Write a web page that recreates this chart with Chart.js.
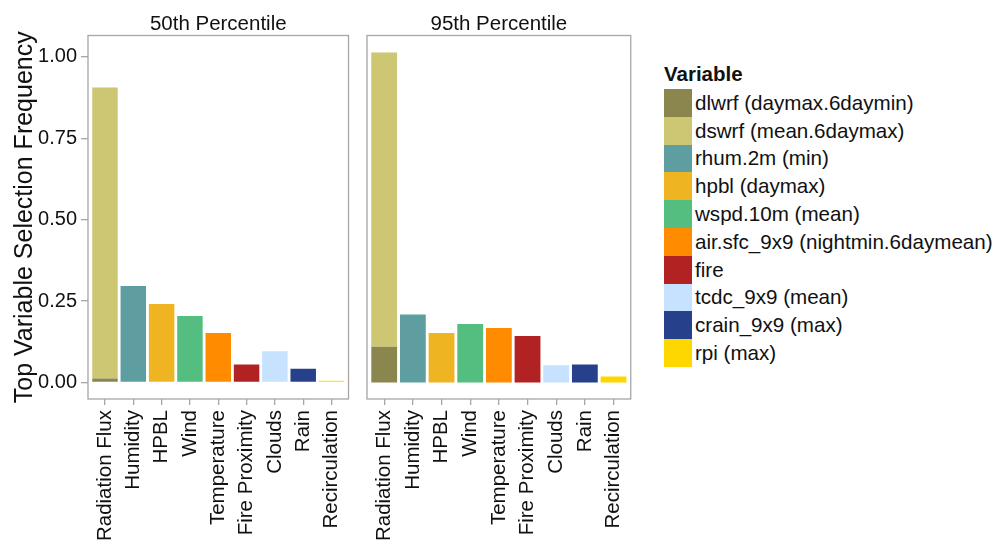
<!DOCTYPE html>
<html>
<head>
<meta charset="utf-8">
<script src="https://cdn.jsdelivr.net/npm/chart.js@4"></script>
<style>
  html, body { margin: 0; padding: 0; background: #fff; }
  body { width: 999px; height: 544px; position: relative; overflow: hidden; font-family: "Liberation Sans", Arial, Helvetica, sans-serif; }
  .panel { position: absolute; top: 0; height: 544px; }
  #legend { position: absolute; left: 664px; top: 62px; color: #111; }
  #legend .title { font-weight: bold; font-size: 20.5px; line-height: 24px; height: 27px; }
  #legend .row { display: flex; align-items: center; height: 27.8px; }
  #legend .key { width: 28px; height: 27.8px; margin-right: 3px; }
  #legend .label { font-size: 20.6px; white-space: nowrap; }
</style>
</head>
<body>
<div class="panel" style="left:0;width:362px"><canvas id="p50"></canvas></div>
<div class="panel" style="left:362px;width:282px"><canvas id="p95"></canvas></div>
<div id="legend"></div>

<script>
// Categories on the x axis (same for both panels)
const categories = ['Radiation Flux', 'Humidity', 'HPBL', 'Wind', 'Temperature',
  'Fire Proximity', 'Clouds', 'Rain', 'Recirculation'];

// Fill variables, in legend order, and the category each one belongs to
const variables = ['dlwrf (daymax.6daymin)', 'dswrf (mean.6daymax)', 'rhum.2m (min)',
  'hpbl (daymax)', 'wspd.10m (mean)', 'air.sfc_9x9 (nightmin.6daymean)', 'fire',
  'tcdc_9x9 (mean)', 'crain_9x9 (max)', 'rpi (max)'];
const variableCategory = ['Radiation Flux', 'Radiation Flux', 'Humidity', 'HPBL', 'Wind',
  'Temperature', 'Fire Proximity', 'Clouds', 'Rain', 'Recirculation'];
const variableColors = ['#8B864E', '#CDC673', '#5F9EA0', '#EEB422', '#54BE80',
  '#FF8C00', '#B22222', '#C6E2FF', '#27408B', '#FFD700'];

// Selection frequency per variable (stacked inside each category)
const freq50 = [0.012, 0.894, 0.296, 0.241, 0.204, 0.152, 0.055, 0.096, 0.042, 0.005];
const freq95 = [0.110, 0.904, 0.209, 0.152, 0.180, 0.167, 0.143, 0.053, 0.055, 0.018];

const yTicks = [0, 0.25, 0.5, 0.75, 1];
const panelTitles = ['50th Percentile', '95th Percentile'];

const FONT = '"Liberation Sans", Arial, Helvetica, sans-serif';
const TEXT = '#111';
const FRAME = '#A6A6A6';

// ggplot-style panel border around the plot area
const panelBorder = {
  id: 'panelBorder',
  afterDraw(chart) {
    const { ctx, chartArea: a } = chart;
    ctx.save();
    ctx.strokeStyle = FRAME;
    ctx.lineWidth = 1.3;
    ctx.strokeRect(a.left, a.top, a.right - a.left, a.bottom - a.top);
    ctx.restore();
  }
};

function buildDatasets(values) {
  return variables.map((name, i) => ({
    label: name,
    data: [{ x: categories.indexOf(variableCategory[i]) + 1, y: values[i] }],
    backgroundColor: variableColors[i],
    borderWidth: 0,
    barPercentage: 0.9,
    categoryPercentage: 1
  }));
}

function makePanel(canvasId, values, title, showY, padding) {
  return new Chart(document.getElementById(canvasId), {
    type: 'bar',
    data: { datasets: buildDatasets(values) },
    options: {
      responsive: true,
      maintainAspectRatio: false,
      animation: false,
      layout: { padding: padding },
      plugins: {
        legend: { display: false },
        tooltip: { enabled: false },
        title: {
          display: true,
          fullSize: false,
          text: title,
          color: TEXT,
          font: { family: FONT, size: 20.5, weight: 'normal', lineHeight: 1 },
          padding: { top: 14, bottom: 1 }
        }
      },
      scales: {
        x: {
          type: 'linear',
          stacked: true,
          offset: false,
          min: 0.4,
          max: 9.6,
          afterBuildTicks: (s) => { s.ticks = categories.map((_, i) => ({ value: i + 1 })); },
          afterFit: (s) => { s.height = 145; },
          border: { display: false },
          grid: { display: true, offset: false, drawOnChartArea: false, drawTicks: true, tickLength: 6, color: FRAME, lineWidth: 1.3 },
          ticks: {
            autoSkip: false,
            minRotation: 90,
            maxRotation: 90,
            padding: 5,
            color: TEXT,
            font: { family: FONT, size: 20.5 },
            callback: (v) => categories[v - 1]
          }
        },
        y: {
          display: showY,
          stacked: true,
          min: -0.0508,
          max: 1.066,
          afterBuildTicks: (s) => { s.ticks = yTicks.map(v => ({ value: v })); },
          afterFit: (s) => { if (showY) s.width = 88; },
          border: { display: false },
          grid: { display: true, drawOnChartArea: false, drawTicks: true, tickLength: 7, color: FRAME, lineWidth: 1.3 },
          ticks: {
            padding: 4,
            color: TEXT,
            font: { family: FONT, size: 20 },
            callback: (v) => v.toFixed(2)
          },
          title: {
            display: true,
            text: 'Top Variable Selection Frequency',
            color: TEXT,
            font: { family: FONT, size: 25, lineHeight: 1.2 },
            padding: { top: 10, bottom: 0 }
          }
        }
      }
    },
    plugins: [panelBorder]
  });
}

makePanel('p50', freq50, panelTitles[0], true, { left: 0, right: 1, top: 0, bottom: 0 });
makePanel('p95', freq95, panelTitles[1], false, { left: 5, right: 3, top: 0, bottom: 0 });

// Legend built from the same variable arrays
const legend = document.getElementById('legend');
legend.innerHTML = '<div class="title">Variable</div>' + variables.map((name, i) =>
  `<div class="row"><div class="key" style="background:${variableColors[i]}"></div>` +
  `<div class="label">${name}</div></div>`).join('');
</script>
</body>
</html>
